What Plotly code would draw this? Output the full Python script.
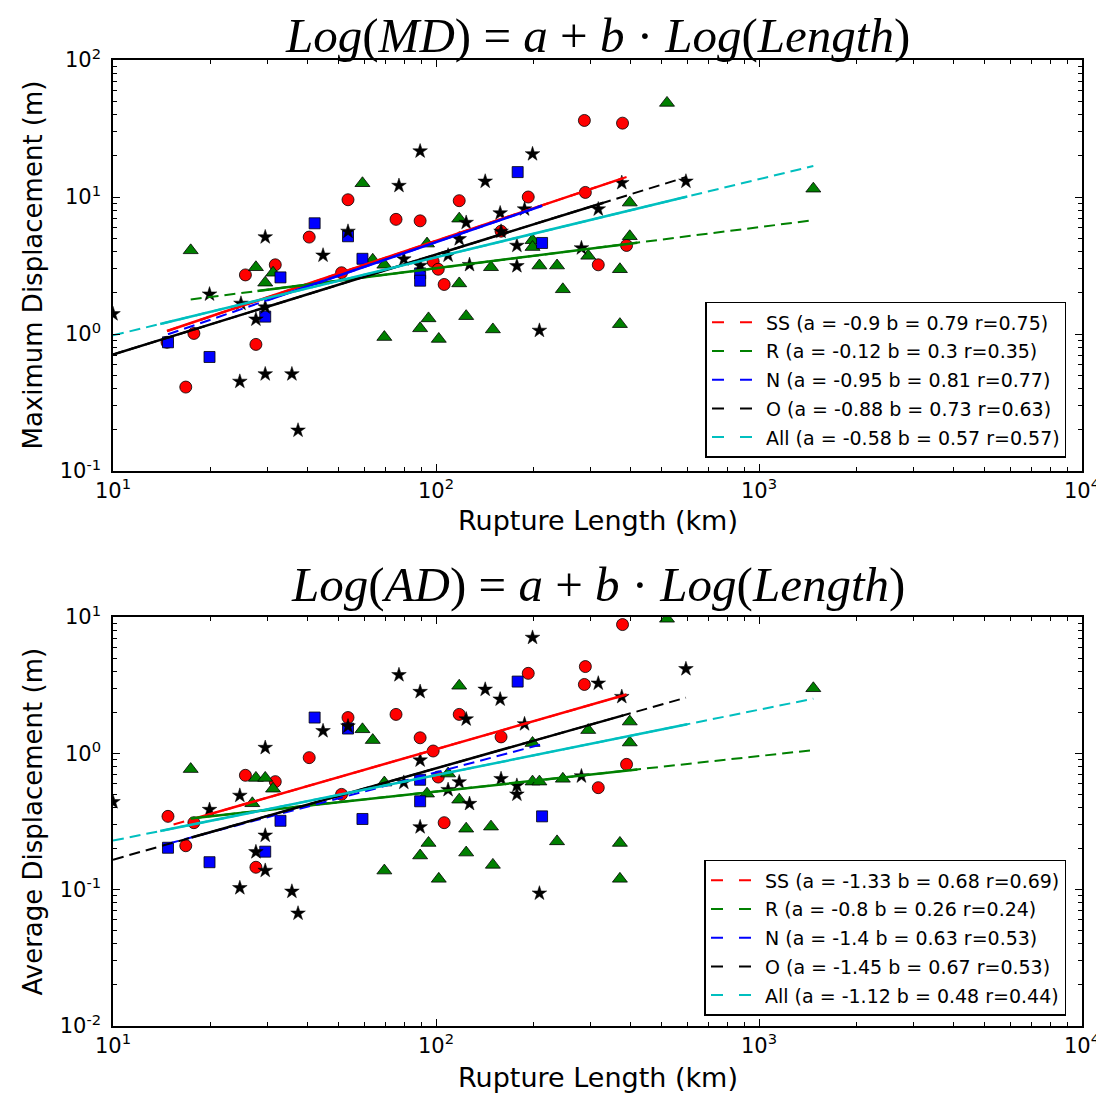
import plotly.graph_objects as go
import numpy as np

# ---------------- data: Maximum displacement panel ----------------
SS_L_md = [53.4, 75.2, 89.3, 40.5, 31.8, 25.7, 51, 98, 101.6, 106, 17.8, 14.7, 27.7, 16.8,
           118, 193, 288, 378, 290, 159, 318, 389]
SS_MD = [9.55, 6.87, 6.7, 5.1, 3.2, 2.7, 2.8, 3.38, 2.97, 2.3, 1.01, 0.87, 0.84, 0.41,
         9.4, 10.0, 36.2, 34.6, 10.8, 5.63, 3.2, 4.43]

R_L_md = [17.4, 59.2, 27.7, 29.6, 31.3, 63.7, 69.2, 93.8, 69.2, 89.3, 94.8, 102, 519, 118,
          199, 199, 398, 398, 118, 148, 209, 237, 296, 371, 247, 124, 150, 371, 1473]
R_MD = [4.08, 12.6, 3.07, 2.37, 2.8, 3.48, 3.2, 4.57, 0.95, 1.1, 1.3, 0.92, 48.6, 6.95,
        4.83, 4.31, 9.1, 5.17, 2.34, 3.07, 3.16, 3.16, 3.72, 2.97, 2.12, 1.35, 1.08, 1.18, 11.5]

N_L_md = [42.1, 53.4, 59.2, 33, 29.6, 14.8, 19.9, 89.3, 89.3, 179, 213]
N_MD = [6.43, 5.17, 3.54, 2.59, 1.34, 0.87, 0.68, 2.77, 2.45, 15.2, 4.62]

O_L_md = [89.3, 76.8, 29.6, 53.4, 44.7, 79.5, 89.3, 19.9, 10, 29.6, 27.7, 24.7, 29.6, 35.8,
          37.4, 199, 142, 376, 594, 158, 124, 188, 318, 118, 127, 109, 178, 178, 282, 159,
          209, 24.9]
O_MD = [21.6, 12.1, 5.1, 5.6, 3.75, 3.52, 3.16, 1.95, 1.4, 1.57, 1.28, 0.45, 0.51, 0.51,
        0.198, 20.6, 13, 12.7, 13, 7.63, 6.5, 8.15, 8.15, 4.94, 3.2, 3.75, 4.42, 3.14, 4.24,
        5.6, 1.06, 1.67]

# ---------------- data: Average displacement panel ----------------
SS_L_ad = [53.4, 75.2, 89.3, 98, 40.5, 25.7, 31.8, 51, 101.6, 106, 14.8, 17.8, 16.8, 27.7,
           378, 290, 288, 193, 118, 159, 389, 318]
SS_AD = [1.83, 1.93, 1.3, 1.04, 0.93, 0.69, 0.62, 0.5, 0.67, 0.31, 0.345, 0.31, 0.21, 0.146,
         8.8, 4.33, 3.2, 3.86, 1.93, 1.32, 0.83, 0.56]

R_L_ad = [17.4, 59.2, 63.7, 27.7, 29.6, 31.3, 27, 69.2, 93.8, 94.8, 89.3, 69.2, 102, 519,
          118, 398, 398, 296, 199, 109, 199, 209, 247, 118, 124, 148, 237, 371, 124, 150,
          371, 1473]
R_AD = [0.766, 1.5, 1.25, 0.66, 0.66, 0.55, 0.43, 0.61, 0.506, 0.22, 0.178, 0.138, 0.12, 9.7,
        3.13, 1.71, 1.2, 1.48, 1.19, 0.71, 0.62, 0.62, 0.65, 0.457, 0.28, 0.29, 0.226, 0.22,
        0.187, 0.152, 0.12, 3.0]

N_L_ad = [42.1, 53.4, 33, 29.6, 14.8, 19.9, 59.2, 89.3, 89.3, 179, 213]
N_AD = [1.83, 1.52, 0.32, 0.19, 0.203, 0.159, 0.33, 0.64, 0.445, 3.36, 0.345]

O_L_ad = [76.8, 89.3, 44.7, 53.4, 29.6, 89.3, 79.5, 24.7, 19.9, 10, 29.6, 27.7, 29.6, 89.3,
          24.7, 35.8, 37.4, 199, 594, 318, 142, 158, 376, 124, 188, 109, 118, 159, 178, 178,
          282, 127, 209]
O_AD = [3.76, 2.83, 1.46, 1.58, 1.1, 0.89, 0.61, 0.49, 0.386, 0.44, 0.25, 0.189, 0.138, 0.288,
        0.103, 0.097, 0.067, 7.06, 4.16, 3.26, 2.94, 2.49, 2.6, 1.78, 1.64, 0.54, 0.615, 0.65,
        0.58, 0.5, 0.68, 0.427, 0.094]

# ---------------- regression fits (from legend) ----------------
FIT_NAMES = ["SS", "R", "N", "O", "All"]
MD_A = [-0.9, -0.12, -0.95, -0.88, -0.58]
MD_B = [0.79, 0.3, 0.81, 0.73, 0.57]
MD_R = [0.75, 0.35, 0.77, 0.63, 0.57]
MD_DASH_RANGE = [(14.7, 389), (17.4, 1473), (14.8, 213), (10, 594), (10, 1473)]
MD_SOLID_RANGE = [(14.7, 378), (28, 420), (30, 213), (10, 330), (14, 600)]

AD_A = [-1.33, -0.8, -1.4, -1.45, -1.12]
AD_B = [0.68, 0.26, 0.63, 0.67, 0.48]
AD_R = [0.69, 0.24, 0.53, 0.53, 0.44]
AD_DASH_RANGE = [(15.4, 389), (17.4, 1473), (14.8, 213), (10, 594), (10, 1473)]
AD_SOLID_RANGE = [(17.4, 389), (17.4, 420), None, (17.5, 380), (14, 600)]

FIT_COLORS = ["#ff0000", "#008000", "#0000ff", "#000000", "#00bfbf"]
X_TICKS = [10, 100, 1000, 10000]
X_TICKTEXT = ["10<sup>1</sup>", "10<sup>2</sup>", "10<sup>3</sup>", "10<sup>4</sup>"]
Y1_TICKS = [0.1, 1, 10, 100]
Y1_TICKTEXT = ["10<sup>-1</sup>", "10<sup>0</sup>", "10<sup>1</sup>", "10<sup>2</sup>"]
Y2_TICKS = [0.01, 0.1, 1, 10]
Y2_TICKTEXT = ["10<sup>-2</sup>", "10<sup>-1</sup>", "10<sup>0</sup>", "10<sup>1</sup>"]


def minor_vals(lo_exp, hi_exp):
    out = []
    for e in range(lo_exp, hi_exp):
        for m in range(2, 10):
            out.append(m * 10 ** e)
    return out


fig = go.Figure()

marker_specs = [
    ("circle", "#ff0000", 12, 0.8),
    ("triangle-up", "#008000", 13, 0.8),
    ("square", "#0000ff", 11, 0.8),
    ("star", "#000000", 11, 0.5),
]


def add_points(groups, xa, ya):
    for (sym, col, size, lw), (xs, ys) in zip(marker_specs, groups):
        fig.add_trace(go.Scatter(
            x=xs, y=ys, mode="markers", xaxis=xa, yaxis=ya, showlegend=False,
            marker=dict(symbol=sym, color=col, size=size,
                        line=dict(color="black", width=lw)),
            hoverinfo="skip"))


def add_fits(A, B, R, dash_rng, solid_rng, xa, ya, legend):
    for i in range(5):
        a, b = A[i], B[i]
        d0, d1 = dash_rng[i]
        xd = np.array([d0, d1], dtype=float)
        fig.add_trace(go.Scatter(
            x=xd, y=10 ** (a + b * np.log10(xd)), mode="lines", xaxis=xa, yaxis=ya,
            line=dict(color=FIT_COLORS[i], width=2, dash="11px,6px"),
            showlegend=False, hoverinfo="skip"))
        if solid_rng[i] is not None:
            s0, s1 = solid_rng[i]
            xs = np.array([s0, s1], dtype=float)
            fig.add_trace(go.Scatter(
                x=xs, y=10 ** (a + b * np.log10(xs)), mode="lines", xaxis=xa, yaxis=ya,
                line=dict(color=FIT_COLORS[i], width=2.5),
                showlegend=False, hoverinfo="skip"))
    # legend entries
    for i in range(5):
        name = f"{FIT_NAMES[i]} (a = {A[i]:g} b = {B[i]:g} r={R[i]:g})"
        fig.add_trace(go.Scatter(
            x=[None], y=[None], mode="lines", xaxis=xa, yaxis=ya, name=name,
            legend=legend, legendgroup=legend + str(i),
            line=dict(color=FIT_COLORS[i], width=2, dash="12px,16px")))


add_points([(SS_L_md, SS_MD), (R_L_md, R_MD), (N_L_md, N_MD), (O_L_md, O_MD)], "x", "y")
add_fits(MD_A, MD_B, MD_R, MD_DASH_RANGE, MD_SOLID_RANGE, "x", "y", "legend")
add_points([(SS_L_ad, SS_AD), (R_L_ad, R_AD), (N_L_ad, N_AD), (O_L_ad, O_AD)], "x2", "y2")
add_fits(AD_A, AD_B, AD_R, AD_DASH_RANGE, AD_SOLID_RANGE, "x2", "y2", "legend2")

FONT = "DejaVu Sans"
axis_common = dict(
    type="log", showgrid=False, zeroline=False, showline=True, linecolor="black",
    linewidth=1.5, mirror="allticks", ticks="inside", ticklen=7, tickwidth=1,
    tickcolor="black", tickfont=dict(family=FONT, size=21, color="black"),
    ticklabeloverflow="allow",
)
minor_x = dict(ticks="inside", ticklen=4, tickwidth=1, tickcolor="black",
               tickvals=minor_vals(1, 4), showgrid=False)

top_dom = [0.5745, 1.0]
bot_dom = [0.0, 0.4234]
PLOT_H = 966.0

fig.update_layout(
    width=1104, height=1095,
    margin=dict(l=105, r=27, t=52, b=77),
    plot_bgcolor="white", paper_bgcolor="white",
    font=dict(family=FONT, color="black"),
    xaxis=dict(**axis_common, range=[1, 4], anchor="y", domain=[0, 1],
               tickvals=X_TICKS, ticktext=X_TICKTEXT, minor=minor_x),
    yaxis=dict(**axis_common, range=[-1, 2], anchor="x", domain=top_dom,
               tickvals=Y1_TICKS, ticktext=Y1_TICKTEXT, ticklabelstandoff=6,
               minor=dict(ticks="inside", ticklen=4, tickwidth=1, tickcolor="black",
                          tickvals=minor_vals(-1, 2), showgrid=False)),
    xaxis2=dict(**axis_common, range=[1, 4], anchor="y2", domain=[0, 1],
                tickvals=X_TICKS, ticktext=X_TICKTEXT, minor=minor_x),
    yaxis2=dict(**axis_common, range=[-2, 1], anchor="x2", domain=bot_dom,
                tickvals=Y2_TICKS, ticktext=Y2_TICKTEXT, ticklabelstandoff=6,
                minor=dict(ticks="inside", ticklen=4, tickwidth=1, tickcolor="black",
                           tickvals=minor_vals(-2, 1), showgrid=False)),
    legend=dict(x=0.984, y=0.5839 + 4 / PLOT_H, xanchor="right", yanchor="bottom",
                bgcolor="white", bordercolor="black", borderwidth=1.5, itemwidth=49,
                font=dict(family=FONT, size=19, color="black"), tracegroupgap=1),
    legend2=dict(x=0.984, y=0.0104, xanchor="right", yanchor="bottom",
                 bgcolor="white", bordercolor="black", borderwidth=1.5, itemwidth=49,
                 font=dict(family=FONT, size=19, color="black"), tracegroupgap=1),
    showlegend=True,
)

TITLE_FONT = dict(family="Liberation Serif", size=49, color="black")
fig.add_annotation(text="<i>Log</i>(<i>MD</i>) = <i>a</i> + <i>b</i> · <i>Log</i>(<i>Length</i>)",
                   xref="paper", yref="paper", x=0.5, y=1.0 + 25 / PLOT_H, xanchor="center",
                   yanchor="middle", showarrow=False, font=TITLE_FONT)
fig.add_annotation(text="<i>Log</i>(<i>AD</i>) = <i>a</i> + <i>b</i> · <i>Log</i>(<i>Length</i>)",
                   xref="paper", yref="paper", x=0.5, y=bot_dom[1] + 32 / PLOT_H,
                   xanchor="center", yanchor="middle", showarrow=False, font=TITLE_FONT)

YLABEL_FONT = dict(family=FONT, size=26, color="black")
XLABEL_FONT = dict(family=FONT, size=27, color="black")
fig.add_annotation(text="Maximum Displacement (m)", xref="paper", yref="paper",
                   x=0, y=(top_dom[0] + top_dom[1]) / 2, xshift=-80, textangle=-90,
                   xanchor="center", yanchor="middle", showarrow=False, font=YLABEL_FONT)
fig.add_annotation(text="Average Displacement (m)", xref="paper", yref="paper",
                   x=0, y=(bot_dom[0] + bot_dom[1]) / 2, xshift=-80, textangle=-90,
                   xanchor="center", yanchor="middle", showarrow=False, font=YLABEL_FONT)
fig.add_annotation(text="Rupture Length (km)", xref="paper", yref="paper",
                   x=0.5, y=top_dom[0], yshift=-49, xanchor="center", yanchor="middle",
                   showarrow=False, font=XLABEL_FONT)
fig.add_annotation(text="Rupture Length (km)", xref="paper", yref="paper",
                   x=0.5, y=bot_dom[0], yshift=-51, xanchor="center", yanchor="middle",
                   showarrow=False, font=XLABEL_FONT)

fig.write_html("out.html")
